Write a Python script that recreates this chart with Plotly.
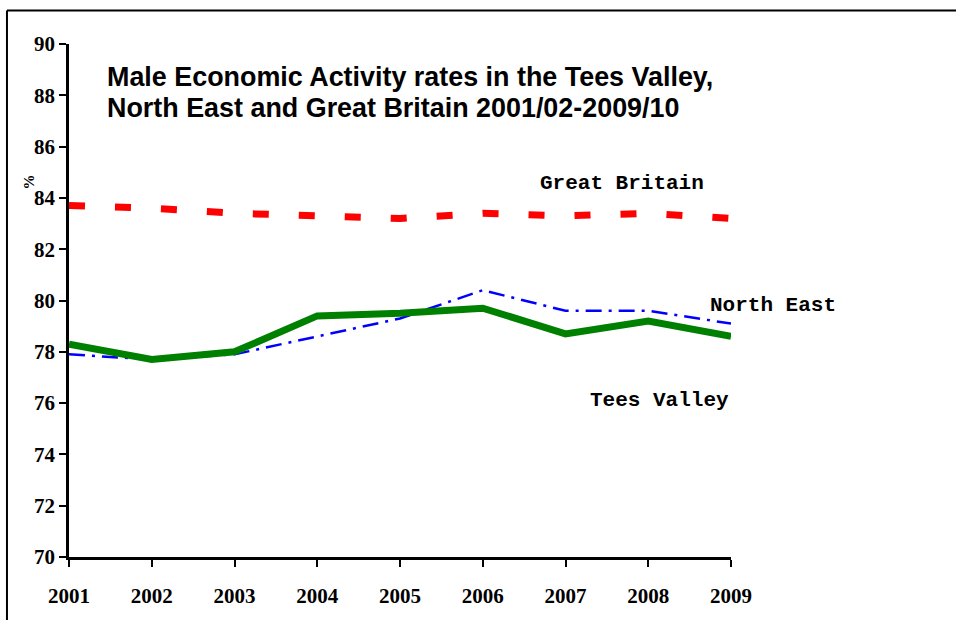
import plotly.graph_objects as go

# Male economic activity rates (%), by year
years = [2001, 2002, 2003, 2004, 2005, 2006, 2007, 2008, 2009]
great_britain = [83.7, 83.6, 83.4, 83.3, 83.2, 83.4, 83.3, 83.4, 83.2]
north_east = [77.9, 77.7, 77.9, 78.6, 79.3, 80.4, 79.6, 79.6, 79.1]
tees_valley = [78.3, 77.7, 78.0, 79.4, 79.5, 79.7, 78.7, 79.2, 78.6]

y_ticks = [70, 72, 74, 76, 78, 80, 82, 84, 86, 88, 90]
title_lines = [
    "Male Economic Activity rates in the Tees Valley,",
    "North East and Great Britain 2001/02-2009/10",
]

fig = go.Figure()
fig.add_trace(go.Scatter(
    x=years, y=great_britain, mode="lines", name="Great Britain",
    line=dict(color="#ff0000", width=7, dash="16px,30px"),
))
fig.add_trace(go.Scatter(
    x=years, y=north_east, mode="lines", name="North East",
    line=dict(color="#0000ff", width=2.5, dash="16px,7px,3px,7px"),
))
fig.add_trace(go.Scatter(
    x=years, y=tees_valley, mode="lines", name="Tees Valley",
    line=dict(color="#008000", width=7),
))


def bold(s):
    return "<b>" + str(s) + "</b>"


def serif(size):
    return dict(family="Liberation Serif, Times New Roman, serif", size=size, color="black")


def mono(size):
    return dict(family="Liberation Mono, Courier New, monospace", size=size, color="black")


def sans(size):
    return dict(family="Liberation Sans, Arial, sans-serif", size=size, color="black")


annotations = [
    dict(x=2007.68, y=84.55, text=bold("Great Britain"), font=mono(21)),
    dict(x=1.0635, xref="paper", y=79.82, text=bold("North East"), font=mono(21)),
    dict(x=2008.14, y=76.1, text=bold("Tees Valley"), font=mono(21)),
    dict(x=2001.43, y=88.73, text=bold(title_lines[0]), font=sans(26.9), xanchor="left"),
    dict(x=2001.43, y=87.5, text=bold(title_lines[1]), font=sans(26.9), xanchor="left"),
    dict(x=-0.059, xref="paper", y=84.64, text=bold("%"), textangle=-90, font=serif(15)),
]
for a in annotations:
    a.setdefault("xref", "x")
    a.setdefault("yref", "y")
    a.setdefault("xanchor", "center")
    a["showarrow"] = False
    a["yanchor"] = "middle"

fig.update_layout(
    width=956, height=620,
    margin=dict(l=69, r=225, t=44, b=57),
    paper_bgcolor="white", plot_bgcolor="white",
    showlegend=False,
    annotations=annotations,
    shapes=[
        dict(type="line", xref="paper", yref="paper", x0=-0.0937, x1=-0.0937,
             y0=-0.2, y1=1.0655, line=dict(color="black", width=2)),
        dict(type="line", xref="paper", yref="paper", x0=-0.0937, x1=1.4,
             y0=1.0655, y1=1.0655, line=dict(color="black", width=2)),
    ],
    xaxis=dict(
        range=[2001, 2009], tickvals=years, ticktext=[bold(y) for y in years],
        showgrid=False, zeroline=False, showline=True, linecolor="black", linewidth=2.5,
        ticks="outside", ticklen=7, tickwidth=2, tickcolor="black",
        tickfont=serif(21), ticklabelstandoff=11,
    ),
    yaxis=dict(
        range=[70, 90], tickvals=y_ticks, ticktext=[bold(v) for v in y_ticks],
        showgrid=False, zeroline=False, showline=True, linecolor="black", linewidth=2.5,
        ticks="outside", ticklen=7, tickwidth=2, tickcolor="black",
        tickfont=serif(21), ticklabelstandoff=0,
    ),
)

fig.write_html("out.html")
